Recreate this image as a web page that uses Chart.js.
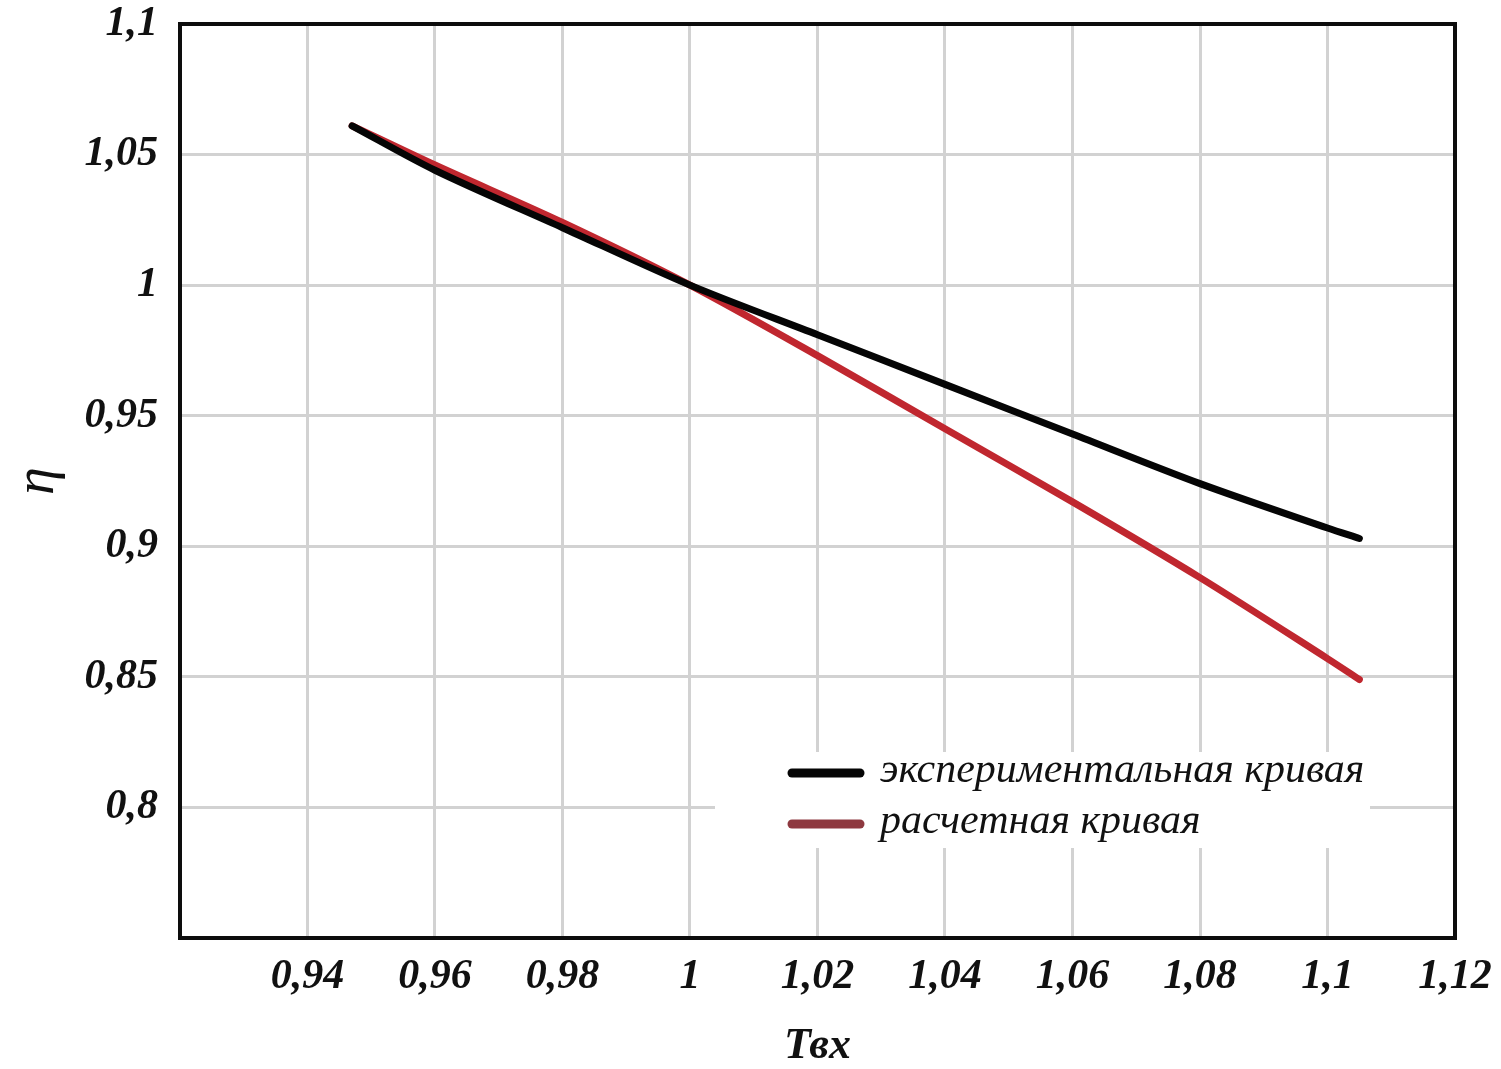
<!DOCTYPE html>
<html>
<head>
<meta charset="utf-8">
<script src="https://cdn.jsdelivr.net/npm/chart.js@4/dist/chart.umd.min.js"></script>
<style>
html,body{margin:0;padding:0;background:#fff;}
#wrap{width:1501px;height:1069px;}
</style>
</head>
<body>
<div id="wrap"><canvas id="c" width="1501" height="1069"></canvas></div>
<script>
// Data
const seriesNames = ['экспериментальная кривая', 'расчетная кривая'];
const xTitle = 'Твх';
const yTitle = 'η';
const expX = [0.947, 0.96, 0.98, 1.0, 1.02, 1.04, 1.06, 1.08, 1.1, 1.105];
const expY = [1.061, 1.044, 1.022, 1.0, 0.981, 0.962, 0.943, 0.924, 0.907, 0.903];
const calcX = [0.947, 0.96, 0.98, 1.0, 1.02, 1.04, 1.06, 1.08, 1.1, 1.105];
const calcY = [1.061, 1.046, 1.024, 1.0, 0.973, 0.945, 0.917, 0.888, 0.857, 0.849];
const xMin = 0.92, xMax = 1.12, xStep = 0.02;
const yMin = 0.75, yMax = 1.1, yStep = 0.05;

const toPts = (xs, ys) => xs.map((x, i) => ({x: x, y: ys[i]}));
const fmt = v => {
  const r = Math.round(v * 100) / 100;
  return String(r).replace('.', ',');
};

const bgPlugin = {
  id: 'bg',
  beforeDraw(chart) {
    const ctx = chart.ctx;
    ctx.save();
    ctx.fillStyle = '#ffffff';
    ctx.fillRect(0, 0, chart.width, chart.height);
    ctx.restore();
  }
};

const framePlugin = {
  id: 'frame',
  beforeDatasetsDraw(chart) {
    const {ctx, chartArea: a} = chart;
    // legend box (white, covers grid)
    const lx = a.left + 535, ly = a.top + 728, lw = 655, lh = 96;
    ctx.save();
    ctx.fillStyle = '#ffffff';
    ctx.fillRect(lx, ly, lw, lh);
    const ds = chart.data.datasets;
    const legendColors = ['#050505', '#8e3940'];
    ds.forEach((d, i) => {
      const y = ly + 21 + i * 51;
      ctx.strokeStyle = legendColors[i];
      ctx.lineWidth = 9;
      ctx.lineCap = 'round';
      ctx.beginPath();
      ctx.moveTo(lx + 77, y);
      ctx.lineTo(lx + 145, y);
      ctx.stroke();
      ctx.fillStyle = '#111';
      ctx.font = 'italic 42px "Liberation Serif"';
      ctx.textBaseline = 'middle';
      ctx.textAlign = 'left';
      ctx.fillText(d.label, lx + 165, y - 2);
    });
    ctx.restore();
  },
  afterDatasetsDraw(chart) {
    const {ctx, chartArea: a} = chart;
    ctx.save();
    ctx.strokeStyle = '#0d0d0d';
    ctx.lineWidth = 4;
    ctx.strokeRect(a.left, a.top, a.right - a.left, a.bottom - a.top);
    ctx.restore();
  }
};

const tickFont = {family: '"Liberation Serif"', size: 42, style: 'italic', weight: 'bold'};

new Chart(document.getElementById('c'), {
  type: 'line',
  data: {
    datasets: [
      {
        label: seriesNames[0],
        data: toPts(expX, expY),
        borderColor: '#050505',
        borderWidth: 7,
        borderCapStyle: 'round',
        pointRadius: 0,
        tension: 0.3,
        order: 0
      },
      {
        label: seriesNames[1],
        data: toPts(calcX, calcY),
        borderColor: '#c0272f',
        borderWidth: 7,
        borderCapStyle: 'round',
        pointRadius: 0,
        tension: 0.3,
        order: 1
      }
    ]
  },
  options: {
    responsive: false,
    animation: false,
    layout: {padding: {left: 0, right: 46, top: 24, bottom: 0}},
    plugins: {legend: {display: false}, tooltip: {enabled: false}},
    scales: {
      x: {
        type: 'linear',
        min: xMin, max: xMax,
        afterFit(s) { s.height = 131; s.paddingLeft = 0; s.paddingRight = 0; },
        afterBuildTicks(s) {
          const t = [];
          for (let v = xMin; v <= xMax + 1e-9; v += xStep) t.push({value: Math.round(v * 100) / 100});
          s.ticks = t;
        },
        ticks: {
          font: tickFont, color: '#111', padding: 14, maxRotation: 0, autoSkip: false,
          callback: v => (Math.abs(v - xMin) < 1e-9 ? '' : fmt(v))
        },
        grid: {color: '#d2d2d2', lineWidth: 3, drawTicks: false},
        border: {display: false},
        title: {display: true, text: xTitle, color: '#111',
          font: {family: '"Liberation Serif"', size: 44, style: 'italic', weight: 'bold', lineHeight: 1},
          padding: {top: 0, bottom: 0}}
      },
      y: {
        type: 'linear',
        min: yMin, max: yMax,
        afterFit(s) { s.width = 180; s.paddingTop = 0; s.paddingBottom = 0; },
        afterBuildTicks(s) {
          const t = [];
          for (let v = yMin; v <= yMax + 1e-9; v += yStep) t.push({value: Math.round(v * 100) / 100});
          s.ticks = t;
        },
        ticks: {
          font: tickFont, color: '#111', padding: 22, autoSkip: false,
          callback: v => (Math.abs(v - yMin) < 1e-9 ? '' : fmt(v))
        },
        grid: {color: '#d2d2d2', lineWidth: 3, drawTicks: false},
        border: {display: false},
        title: {display: true, text: yTitle, color: '#111',
          font: {family: '"Liberation Serif"', size: 56, style: 'italic', lineHeight: 1},
          padding: {top: 10, bottom: 0}}
      }
    }
  },
  plugins: [bgPlugin, framePlugin]
});
</script>
</body>
</html>
